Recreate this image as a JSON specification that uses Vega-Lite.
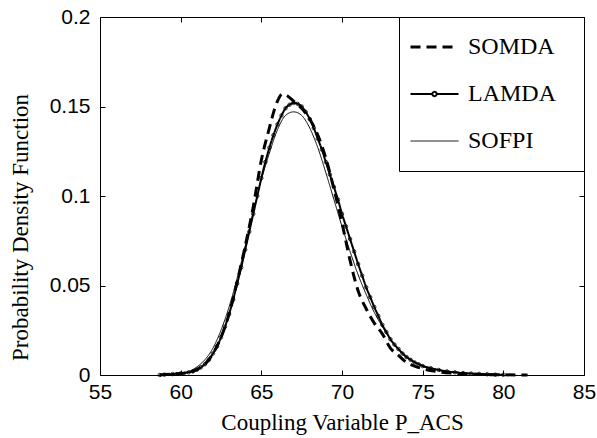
{
  "$schema": "https://vega.github.io/schema/vega-lite/v6.json",
  "width": 484,
  "height": 358,
  "autosize": {"type": "none"},
  "padding": {"left": 100, "top": 17, "right": 13, "bottom": 63},
  "background": "white",
  "config": {
    "view": {"stroke": "black", "strokeWidth": 1},
    "axis": {
      "domain": false,
      "grid": false,
      "tickColor": "black",
      "tickSize": -5,
      "tickWidth": 1,
      "labelFlush": false,
      "labelColor": "black",
      "labelFont": "Liberation Sans",
      "labelFontSize": 21,
      "titleColor": "black",
      "titleFont": "Liberation Serif",
      "titleFontSize": 23,
      "titleFontWeight": "normal"
    }
  },
  "datasets": {
    "curves": [
      {"s": "SOFPI", "x": 58.7, "y": 0},
      {"s": "SOFPI", "x": 59.5, "y": 0.0008},
      {"s": "SOFPI", "x": 60.5, "y": 0.002},
      {"s": "SOFPI", "x": 61.0, "y": 0.0045},
      {"s": "SOFPI", "x": 61.5, "y": 0.0085},
      {"s": "SOFPI", "x": 62.0, "y": 0.015},
      {"s": "SOFPI", "x": 62.5, "y": 0.025},
      {"s": "SOFPI", "x": 63.0, "y": 0.038},
      {"s": "SOFPI", "x": 63.5, "y": 0.054},
      {"s": "SOFPI", "x": 64.0, "y": 0.072},
      {"s": "SOFPI", "x": 64.5, "y": 0.091},
      {"s": "SOFPI", "x": 65.0, "y": 0.109},
      {"s": "SOFPI", "x": 65.5, "y": 0.124},
      {"s": "SOFPI", "x": 66.0, "y": 0.137},
      {"s": "SOFPI", "x": 66.5, "y": 0.145},
      {"s": "SOFPI", "x": 67.0, "y": 0.147},
      {"s": "SOFPI", "x": 67.5, "y": 0.145},
      {"s": "SOFPI", "x": 68.0, "y": 0.138},
      {"s": "SOFPI", "x": 68.5, "y": 0.127},
      {"s": "SOFPI", "x": 69.0, "y": 0.113},
      {"s": "SOFPI", "x": 69.5, "y": 0.098},
      {"s": "SOFPI", "x": 70.0, "y": 0.083},
      {"s": "SOFPI", "x": 70.5, "y": 0.069},
      {"s": "SOFPI", "x": 71.0, "y": 0.056},
      {"s": "SOFPI", "x": 71.5, "y": 0.045},
      {"s": "SOFPI", "x": 72.0, "y": 0.035},
      {"s": "SOFPI", "x": 72.5, "y": 0.027},
      {"s": "SOFPI", "x": 73.0, "y": 0.020},
      {"s": "SOFPI", "x": 73.5, "y": 0.0148},
      {"s": "SOFPI", "x": 74.0, "y": 0.0105},
      {"s": "SOFPI", "x": 74.5, "y": 0.0075},
      {"s": "SOFPI", "x": 75.0, "y": 0.0054},
      {"s": "SOFPI", "x": 75.5, "y": 0.004},
      {"s": "SOFPI", "x": 76.0, "y": 0.003},
      {"s": "SOFPI", "x": 77.0, "y": 0.0017},
      {"s": "SOFPI", "x": 78.0, "y": 0.0009},
      {"s": "SOFPI", "x": 79.0, "y": 0.0005},
      {"s": "SOFPI", "x": 80.0, "y": 0.0002},

      {"s": "LAMDA", "x": 58.7, "y": 0},
      {"s": "LAMDA", "x": 59.0, "y": 0.0002},
      {"s": "LAMDA", "x": 59.5, "y": 0.0005},
      {"s": "LAMDA", "x": 60.0, "y": 0.0009},
      {"s": "LAMDA", "x": 60.5, "y": 0.0015},
      {"s": "LAMDA", "x": 60.75, "y": 0.002},
      {"s": "LAMDA", "x": 61.0, "y": 0.003},
      {"s": "LAMDA", "x": 61.25, "y": 0.0043},
      {"s": "LAMDA", "x": 61.5, "y": 0.006},
      {"s": "LAMDA", "x": 61.75, "y": 0.0085},
      {"s": "LAMDA", "x": 62.0, "y": 0.012},
      {"s": "LAMDA", "x": 62.25, "y": 0.016},
      {"s": "LAMDA", "x": 62.5, "y": 0.021},
      {"s": "LAMDA", "x": 62.75, "y": 0.027},
      {"s": "LAMDA", "x": 63.0, "y": 0.034},
      {"s": "LAMDA", "x": 63.25, "y": 0.042},
      {"s": "LAMDA", "x": 63.5, "y": 0.051},
      {"s": "LAMDA", "x": 63.75, "y": 0.060},
      {"s": "LAMDA", "x": 64.0, "y": 0.070},
      {"s": "LAMDA", "x": 64.25, "y": 0.080},
      {"s": "LAMDA", "x": 64.5, "y": 0.090},
      {"s": "LAMDA", "x": 64.75, "y": 0.100},
      {"s": "LAMDA", "x": 65.0, "y": 0.110},
      {"s": "LAMDA", "x": 65.25, "y": 0.119},
      {"s": "LAMDA", "x": 65.5, "y": 0.127},
      {"s": "LAMDA", "x": 65.75, "y": 0.134},
      {"s": "LAMDA", "x": 66.0, "y": 0.140},
      {"s": "LAMDA", "x": 66.25, "y": 0.145},
      {"s": "LAMDA", "x": 66.5, "y": 0.149},
      {"s": "LAMDA", "x": 66.75, "y": 0.151},
      {"s": "LAMDA", "x": 67.0, "y": 0.152},
      {"s": "LAMDA", "x": 67.25, "y": 0.1515},
      {"s": "LAMDA", "x": 67.5, "y": 0.150},
      {"s": "LAMDA", "x": 67.75, "y": 0.147},
      {"s": "LAMDA", "x": 68.0, "y": 0.143},
      {"s": "LAMDA", "x": 68.25, "y": 0.138},
      {"s": "LAMDA", "x": 68.5, "y": 0.132},
      {"s": "LAMDA", "x": 68.75, "y": 0.126},
      {"s": "LAMDA", "x": 69.0, "y": 0.119},
      {"s": "LAMDA", "x": 69.25, "y": 0.112},
      {"s": "LAMDA", "x": 69.5, "y": 0.105},
      {"s": "LAMDA", "x": 69.75, "y": 0.098},
      {"s": "LAMDA", "x": 70.0, "y": 0.090},
      {"s": "LAMDA", "x": 70.25, "y": 0.083},
      {"s": "LAMDA", "x": 70.5, "y": 0.076},
      {"s": "LAMDA", "x": 70.75, "y": 0.069},
      {"s": "LAMDA", "x": 71.0, "y": 0.062},
      {"s": "LAMDA", "x": 71.25, "y": 0.0555},
      {"s": "LAMDA", "x": 71.5, "y": 0.049},
      {"s": "LAMDA", "x": 71.75, "y": 0.0435},
      {"s": "LAMDA", "x": 72.0, "y": 0.038},
      {"s": "LAMDA", "x": 72.25, "y": 0.033},
      {"s": "LAMDA", "x": 72.5, "y": 0.028},
      {"s": "LAMDA", "x": 72.75, "y": 0.024},
      {"s": "LAMDA", "x": 73.0, "y": 0.020},
      {"s": "LAMDA", "x": 73.25, "y": 0.017},
      {"s": "LAMDA", "x": 73.5, "y": 0.0145},
      {"s": "LAMDA", "x": 73.75, "y": 0.012},
      {"s": "LAMDA", "x": 74.0, "y": 0.010},
      {"s": "LAMDA", "x": 74.25, "y": 0.0085},
      {"s": "LAMDA", "x": 74.5, "y": 0.007},
      {"s": "LAMDA", "x": 74.75, "y": 0.006},
      {"s": "LAMDA", "x": 75.0, "y": 0.005},
      {"s": "LAMDA", "x": 75.5, "y": 0.0038},
      {"s": "LAMDA", "x": 76.0, "y": 0.0028},
      {"s": "LAMDA", "x": 76.5, "y": 0.002},
      {"s": "LAMDA", "x": 77.0, "y": 0.0015},
      {"s": "LAMDA", "x": 77.5, "y": 0.0011},
      {"s": "LAMDA", "x": 78.0, "y": 0.0008},
      {"s": "LAMDA", "x": 78.5, "y": 0.0006},
      {"s": "LAMDA", "x": 79.0, "y": 0.0004},
      {"s": "LAMDA", "x": 79.5, "y": 0.0002},
      {"s": "LAMDA", "x": 80.0, "y": 0.0001},

      {"s": "SOMDA", "x": 58.7, "y": 0},
      {"s": "SOMDA", "x": 59.5, "y": 0.0005},
      {"s": "SOMDA", "x": 60.5, "y": 0.0015},
      {"s": "SOMDA", "x": 61.0, "y": 0.003},
      {"s": "SOMDA", "x": 61.5, "y": 0.006},
      {"s": "SOMDA", "x": 62.0, "y": 0.012},
      {"s": "SOMDA", "x": 62.5, "y": 0.021},
      {"s": "SOMDA", "x": 63.0, "y": 0.034},
      {"s": "SOMDA", "x": 63.5, "y": 0.052},
      {"s": "SOMDA", "x": 64.0, "y": 0.072},
      {"s": "SOMDA", "x": 64.5, "y": 0.094},
      {"s": "SOMDA", "x": 65.0, "y": 0.120},
      {"s": "SOMDA", "x": 65.5, "y": 0.138},
      {"s": "SOMDA", "x": 65.8, "y": 0.148},
      {"s": "SOMDA", "x": 66.0, "y": 0.153},
      {"s": "SOMDA", "x": 66.3, "y": 0.157},
      {"s": "SOMDA", "x": 66.6, "y": 0.156},
      {"s": "SOMDA", "x": 67.0, "y": 0.153},
      {"s": "SOMDA", "x": 67.5, "y": 0.149},
      {"s": "SOMDA", "x": 68.0, "y": 0.143},
      {"s": "SOMDA", "x": 68.5, "y": 0.134},
      {"s": "SOMDA", "x": 69.0, "y": 0.121},
      {"s": "SOMDA", "x": 69.5, "y": 0.104},
      {"s": "SOMDA", "x": 70.0, "y": 0.085},
      {"s": "SOMDA", "x": 70.5, "y": 0.064},
      {"s": "SOMDA", "x": 71.0, "y": 0.047},
      {"s": "SOMDA", "x": 71.5, "y": 0.037},
      {"s": "SOMDA", "x": 72.0, "y": 0.029},
      {"s": "SOMDA", "x": 72.5, "y": 0.023},
      {"s": "SOMDA", "x": 73.0, "y": 0.015},
      {"s": "SOMDA", "x": 73.5, "y": 0.011},
      {"s": "SOMDA", "x": 74.0, "y": 0.007},
      {"s": "SOMDA", "x": 74.5, "y": 0.005},
      {"s": "SOMDA", "x": 75.0, "y": 0.0035},
      {"s": "SOMDA", "x": 76.0, "y": 0.0018},
      {"s": "SOMDA", "x": 77.0, "y": 0.0009},
      {"s": "SOMDA", "x": 78.0, "y": 0.0004},
      {"s": "SOMDA", "x": 79.0, "y": 0.0002},
      {"s": "SOMDA", "x": 80.0, "y": 0.0001},
      {"s": "SOMDA", "x": 81.5, "y": 0}
    ]
  },
  "data": {"name": "curves"},
  "layer": [
    {
      "mark": {"type": "line", "color": "black", "interpolate": "monotone"},
      "encoding": {
        "x": {
          "field": "x", "type": "quantitative",
          "scale": {"domain": [55, 85], "nice": false, "zero": false},
          "axis": {"orient": "bottom", "values": [55, 60, 65, 70, 75, 80, 85], "labelPadding": 11, "titlePadding": 9, "title": "Coupling Variable P_ACS"}
        },
        "y": {
          "field": "y", "type": "quantitative",
          "scale": {"domain": [0, 0.2], "nice": false},
          "axis": {"orient": "left", "values": [0, 0.05, 0.1, 0.15, 0.2], "format": "~g", "labelPadding": 15, "title": "Probability Density Function", "titleX": -68, "titleY": 210, "titleBaseline": "bottom", "titleAlign": "center", "titleAngle": -90}
        },
        "strokeDash": {
          "field": "s", "type": "nominal",
          "scale": {"domain": ["SOMDA", "LAMDA", "SOFPI"], "range": [[10, 6], [1, 0], [1, 0]]},
          "legend": {
            "title": null,
            "orient": "top-right",
            "offset": 0,
            "fillColor": "white",
            "strokeColor": "black",
            "padding": 10,
            "symbolType": "stroke",
            "symbolSize": 2304,
            "symbolStrokeColor": "black",
            "symbolStrokeWidth": 1,
            "clipHeight": 40,
            "rowPadding": 7,
            "labelOffset": 8,
            "labelFont": "Liberation Serif",
            "labelFontSize": 24,
            "labelColor": "black",
            "labelExpr": "datum.label + '\u2800'",
            "encode": {
              "symbols": {
                "update": {
                  "shape": {"signal": "datum.value === 'LAMDA' ? 'M-1,0H-0.09M0.09,0H1M-0.09,0A0.09,0.09,0,1,1,0.09,0A0.09,0.09,0,1,1,-0.09,0' : 'stroke'"},
                  "stroke": {"value": "black"},
                  "strokeWidth": {"signal": "datum.value === 'SOMDA' ? 3 : 0.9"}
                }
              }
            }
          }
        },
        "strokeWidth": {
          "field": "s", "type": "nominal",
          "scale": {"domain": ["SOMDA", "LAMDA", "SOFPI"], "range": [3, 1, 0.8]},
          "legend": null
        },
        "order": {"field": "x", "type": "quantitative"}
      }
    },
    {
      "transform": [{"filter": "datum.s === 'LAMDA'"}],
      "mark": {"type": "point", "filled": false, "color": "black", "size": 12, "strokeWidth": 0.8, "opacity": 1},
      "encoding": {
        "x": {
          "field": "x", "type": "quantitative",
          "scale": {"domain": [55, 85], "nice": false, "zero": false},
          "axis": {"orient": "top", "values": [55, 60, 65, 70, 75, 80, 85], "labels": false, "title": null}
        },
        "y": {
          "field": "y", "type": "quantitative",
          "scale": {"domain": [0, 0.2], "nice": false},
          "axis": {"orient": "right", "values": [0, 0.05, 0.1, 0.15, 0.2], "labels": false, "title": null}
        }
      }
    }
  ],
  "resolve": {"scale": {"x": "independent", "y": "independent"}}
}
